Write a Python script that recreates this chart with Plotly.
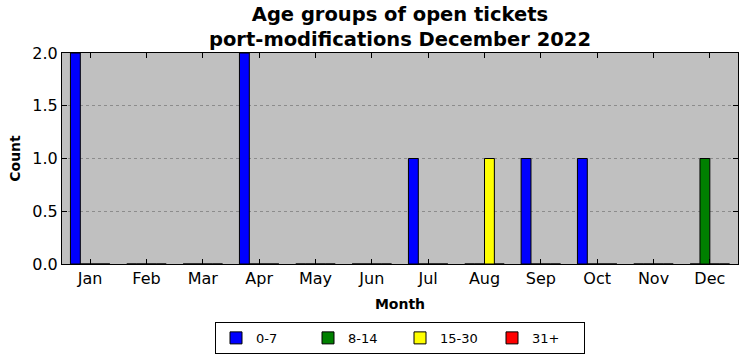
import plotly.graph_objects as go

months = ["Jan", "Feb", "Mar", "Apr", "May", "Jun", "Jul", "Aug", "Sep", "Oct", "Nov", "Dec"]
age_groups = ["0-7", "8-14", "15-30", "31+"]
counts_0_7 = [2, 0, 0, 2, 0, 0, 1, 0, 1, 1, 0, 0]
counts_8_14 = [0, 0, 0, 0, 0, 0, 0, 0, 0, 0, 0, 1]
counts_15_30 = [0, 0, 0, 0, 0, 0, 0, 1, 0, 0, 0, 0]
counts_31_plus = [0, 0, 0, 0, 0, 0, 0, 0, 0, 0, 0, 0]
colors = ["#0000ff", "#008000", "#ffff00", "#ff0000"]

series = [counts_0_7, counts_8_14, counts_15_30, counts_31_plus]

fig = go.Figure()
for name, vals, col in zip(age_groups, series, colors):
    fig.add_trace(go.Bar(
        x=months, y=vals, name=name,
        marker=dict(color=col, line=dict(color="black", width=1)),
    ))

font = "DejaVu Sans"
fig.update_layout(
    width=747, height=361,
    margin=dict(l=62, r=9, t=53, b=96),
    paper_bgcolor="white",
    plot_bgcolor="#c0c0c0",
    barmode="group",
    bargap=0.3,
    bargroupgap=0,
    font=dict(family=font, size=16, color="black"),
    showlegend=True,
    legend=dict(
        orientation="h", x=0.5, xanchor="center", y=-0.344, yanchor="middle",
        bordercolor="black", borderwidth=1, bgcolor="white",
        font=dict(family=font, size=13),
        traceorder="normal", entrywidth=47, entrywidthmode="pixels",
    ),
)
fig.add_annotation(
    text="<b>Age groups of open tickets<br>port-modifications December 2022</b>",
    x=0.5, xref="paper", xanchor="center",
    y=1.0, yref="paper", yanchor="bottom", yshift=0,
    showarrow=False, align="center",
    font=dict(family=font, size=19.5, color="black"),
)
fig.update_xaxes(
    range=[-0.5, 11.5],
    showline=True, linecolor="black", linewidth=1, mirror="ticks",
    ticks="inside", ticklen=5, tickcolor="black",
    showgrid=False,
    title=dict(text="<b>Month</b>", font=dict(family=font, size=14), standoff=11),
    tickfont=dict(family=font, size=16),
)
fig.update_yaxes(
    range=[0, 2], dtick=0.5, tickformat=".1f",
    showline=True, linecolor="black", linewidth=1, mirror="ticks",
    ticks="inside", ticklen=5, tickcolor="black",
    showgrid=True, gridcolor="#8c8c8c", griddash="dot", gridwidth=1,
    zeroline=False,
    title=dict(text="<b>Count</b>", font=dict(family=font, size=14), standoff=8),
    tickfont=dict(family=font, size=16),
)

fig.write_html("out.html", config={"displayModeBar": False},
               post_script="document.body.style.margin='0';")
